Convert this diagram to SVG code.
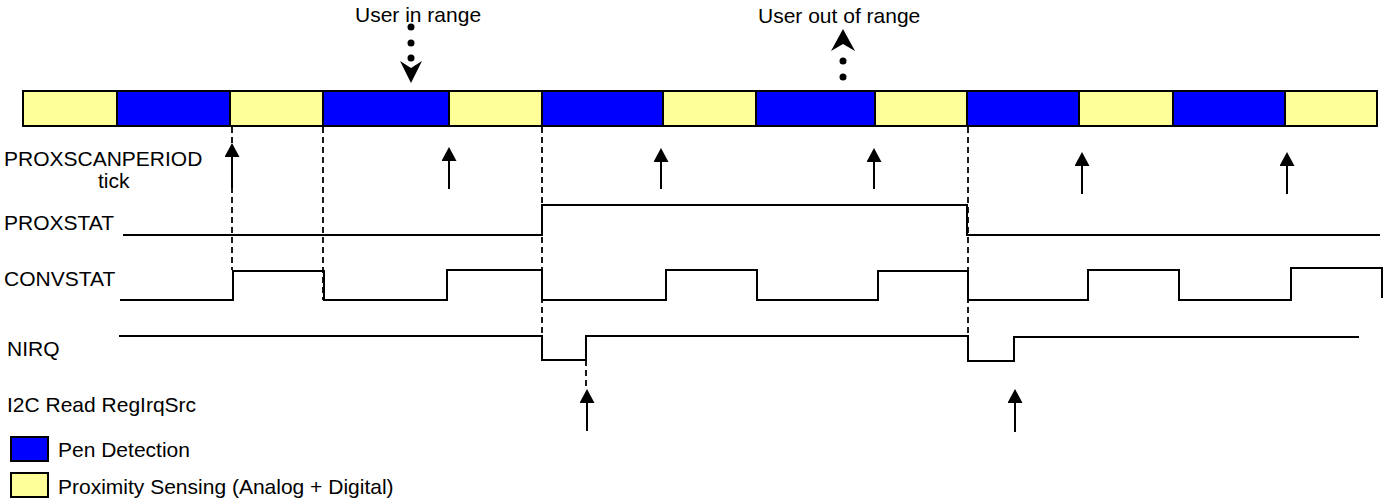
<svg xmlns="http://www.w3.org/2000/svg" width="1394" height="503" viewBox="0 0 1394 503">
<defs>
<style>
text{font-family:"Liberation Sans",Arial,sans-serif;font-size:21px;fill:#000}
.y{fill:#FFFF99;stroke:#000;stroke-width:2}
.b{fill:#0000FF;stroke:#000;stroke-width:2}
.w{fill:none;stroke:#000;stroke-width:2}
.d{fill:none;stroke:#000;stroke-width:1.8;stroke-dasharray:6 4}
.a{fill:none;stroke:#000;stroke-width:2;marker-end:url(#tri)}
.dot{fill:#000}
</style>
<marker id="tri" viewBox="0 0 14 15" refX="0" refY="7.5" markerWidth="14" markerHeight="15" markerUnits="userSpaceOnUse" orient="auto">
<path d="M0,0 L14,7.5 L0,15 Z" fill="#000"/>
</marker>
</defs>
<rect width="1394" height="503" fill="#fff"/>

<g id="timeline">
<rect class="y" x="23" y="91" width="94" height="35"/>
<rect class="b" x="117" y="91" width="113" height="35"/>
<rect class="y" x="230" y="91" width="93" height="35"/>
<rect class="b" x="323" y="91" width="126" height="35"/>
<rect class="y" x="449" y="91" width="93" height="35"/>
<rect class="b" x="542" y="91" width="121" height="35"/>
<rect class="y" x="663" y="91" width="93" height="35"/>
<rect class="b" x="756" y="91" width="119" height="35"/>
<rect class="y" x="875" y="91" width="92" height="35"/>
<rect class="b" x="967" y="91" width="112" height="35"/>
<rect class="y" x="1079" y="91" width="94" height="35"/>
<rect class="b" x="1173" y="91" width="112" height="35"/>
<rect class="y" x="1285" y="91" width="92" height="35"/>
</g>

<g id="labels">
<text x="355" y="22">User in range</text>
<text x="758" y="23">User out of range</text>
<text x="4" y="166">PROXSCANPERIOD</text>
<text x="98" y="188">tick</text>
<text x="4" y="230">PROXSTAT</text>
<text x="4" y="286">CONVSTAT</text>
<text x="7" y="356">NIRQ</text>
<text x="7" y="412">I2C Read RegIrqSrc</text>
</g>

<g id="proxstat">
<path class="w" d="M123,235 H542 V205 H967 V235 H1380"/>
</g>
<g id="convstat">
<path class="w" d="M120,300 H233 V271 H324 V300 H447 V270 H542 V300 H666 V270 H757 V300 H878 V271 H968 V300 H1088 V270 H1179 V300 H1291 V268 H1382 V298"/>
</g>
<g id="nirq">
<path class="w" d="M119,336 H542 V360 H586 V336 H968 V361 H1014 V337 H1359"/>
</g>

<g id="connectors">
<line class="d" x1="232" y1="127" x2="232" y2="270"/>
<line class="d" x1="323" y1="127" x2="323" y2="300"/>
<line class="d" x1="542" y1="127" x2="542" y2="360"/>
<line class="d" x1="968" y1="127" x2="968" y2="361"/>
<line class="d" x1="586" y1="360" x2="586" y2="389"/>

<line class="a" x1="232" y1="188" x2="232" y2="157"/>
<line class="a" x1="449" y1="189" x2="449" y2="161"/>
<line class="a" x1="661" y1="189" x2="661" y2="162"/>
<line class="a" x1="874" y1="189" x2="874" y2="162"/>
<line class="a" x1="1082" y1="194" x2="1082" y2="166"/>
<line class="a" x1="1287" y1="194" x2="1287" y2="166"/>

<line class="a" x1="587" y1="431" x2="587" y2="403"/>
<line class="a" x1="1015" y1="432" x2="1015" y2="403"/>

<circle class="dot" cx="411" cy="27" r="3.5"/>
<circle class="dot" cx="411" cy="43" r="3.5"/>
<circle class="dot" cx="411" cy="58" r="3.5"/>
<path d="M411,83 L400,61 L411,68 L422,61 Z" fill="#000"/>

<circle class="dot" cx="843" cy="77" r="3.5"/>
<circle class="dot" cx="843" cy="61" r="3.5"/>
<path d="M843,29 L831,51 L843,44 L855,51 Z" fill="#000"/>
</g>

<g id="legend">
<rect class="b" x="11" y="437" width="37" height="24"/>
<text x="58" y="457">Pen Detection</text>
<rect class="y" x="11" y="473" width="37" height="24"/>
<text x="58" y="494">Proximity Sensing (Analog + Digital)</text>
</g>
</svg>
